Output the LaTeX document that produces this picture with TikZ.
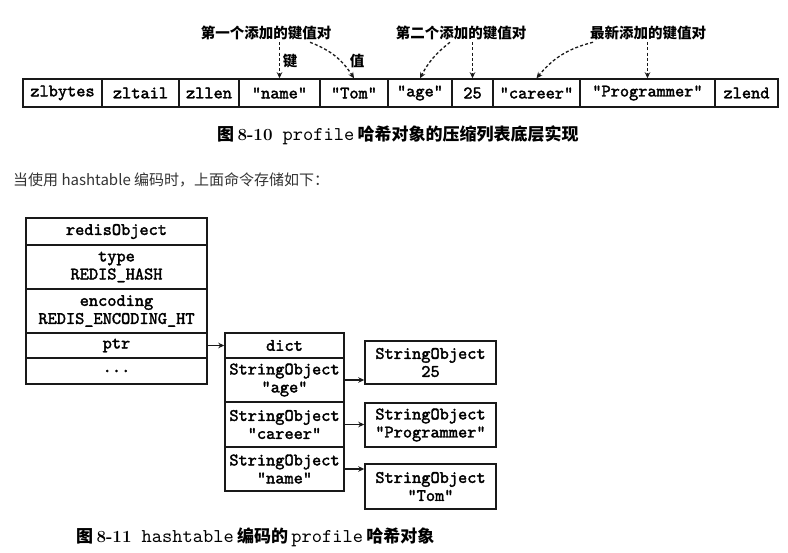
\documentclass[tikz,border=0pt]{standalone}
\usepackage{fontspec}
\setmonofont{lmmono10-regular.otf}[BoldFont=lmmono10-regular.otf, BoldFeatures={FakeBold=2}]
\newfontfamily\cjk{Noto Sans CJK SC}
\usetikzlibrary{arrows.meta,calc}
\begin{document}
\begin{tikzpicture}[x=1pt,y=-1pt,
  cell/.style={draw=black!90, line width=1.5pt, inner sep=0pt, align=center,
    font=\ttfamily\bfseries\fontsize{17.5}{18}\selectfont},
  toprow/.style={cell, minimum height=28},
  lab/.style={inner sep=2pt, font=\cjk\bfseries\fontsize{14.5}{16}\selectfont},
  dasharrow/.style={draw=black!90, line width=1.3pt, dash pattern=on 3pt off 2.2pt,
    -{Stealth[length=6pt,width=5.5pt]}},
  solidarrow/.style={draw=black!90, line width=1.3pt, -{Stealth[length=6pt,width=5.5pt]}},
  caption/.style={anchor=west, inner sep=0pt}
]
\useasboundingbox (0,0) rectangle (788,553);

% ---- ziplist row ----
\node[toprow, minimum width=79] (zlbytes) at (62.5,93) {zlbytes};
\node[toprow, minimum width=77] (zltail) at (140.5,93) {zltail};
\node[toprow, minimum width=60] (zllen) at (209,93) {zllen};
\node[toprow, minimum width=81] (name) at (279.5,93) {"name"};
\node[toprow, minimum width=68] (tom) at (354,93) {"Tom"};
\node[toprow, minimum width=64] (age) at (420,93) {"age"};
\node[toprow, minimum width=41] (v25) at (472.5,93) {25};
\node[toprow, minimum width=87] (career) at (536.5,93) {"career"};
\node[toprow, minimum width=135] (prog) at (647.5,93) {"Programmer"};
\node[toprow, minimum width=63] (zlend) at (746.5,93) {zlend};

% ---- labels ----
\node[lab] (l1) at (266,33) {第一个添加的键值对};
\node[lab] (l2) at (461,33) {第二个添加的键值对};
\node[lab] (l3) at (648,33) {最新添加的键值对};
\node[lab] (kk) at (290,61) {键};
\node[lab] (vv) at (357,61) {值};

\draw[dasharrow] (name.north |- l1.south) -- (name.north);
\draw[dasharrow] ([xshift=44pt]l1.south) to[bend left=18] (tom.north);
\draw[dasharrow] ([xshift=-11pt]l2.south) to[bend right=12] (age.north);
\draw[dasharrow] (v25.north |- l2.south) -- (v25.north);
\draw[dasharrow] ([xshift=-55pt]l3.south) to[bend right=18] (career.north);
\draw[dasharrow] (prog.north |- l3.south) -- (prog.north);

% ---- caption 8-10 ----
\node[caption] (cap1) at (217,135) {{\cjk\bfseries\fontsize{17}{18}\selectfont 图} {\bfseries\fontsize{17}{18}\selectfont 8-10}\quad{\ttfamily\fontsize{19.5}{20}\selectfont profile} {\cjk\bfseries\fontsize{17}{18}\selectfont 哈希对象的压缩列表底层实现}};

% ---- web text ----
\node[caption, text=black!80] (web) at (13,180) {\cjk\fontsize{15}{17}\selectfont 当使用 hashtable 编码时，上面命令存储如下：};

% ---- redisObject ----
\node[cell, minimum width=181, minimum height=27] (ro) at (116.5,231.5) {redisObject};
\node[cell, minimum width=181, minimum height=44] (type) at (116.5,267) {type\\REDIS\_HASH};
\node[cell, minimum width=181, minimum height=44] (enc) at (116.5,311) {encoding\\REDIS\_ENCODING\_HT};
\node[cell, minimum width=181, minimum height=25] (ptr) at (116.5,345.5) {ptr};
\node[cell, minimum width=181, minimum height=26] (dots) at (116.5,371) {...};

% ---- dict ----
\node[cell, minimum width=119, minimum height=25] (dict) at (284.5,345.5) {dict};
\node[cell, minimum width=119, minimum height=44] (sage) at (284.5,380) {StringObject\\"age"};
\node[cell, minimum width=119, minimum height=45] (scar) at (284.5,424.5) {StringObject\\"career"};
\node[cell, minimum width=119, minimum height=44] (sname) at (284.5,469) {StringObject\\"name"};

% ---- values ----
\node[cell, minimum width=131, minimum height=43] (o25) at (430.5,362.5) {StringObject\\25};
\node[cell, minimum width=131, minimum height=44] (oprog) at (430.5,425) {StringObject\\"Programmer"};
\node[cell, minimum width=131, minimum height=45] (otom) at (430.5,486.5) {StringObject\\"Tom"};

\draw[solidarrow] (ptr.east) -- (dict.west);
\draw[solidarrow] (sage.east) -- (sage.east -| o25.west);
\draw[solidarrow] (scar.east) -- (scar.east -| oprog.west);
\draw[solidarrow] (sname.east) -- (sname.east -| otom.west);

% ---- caption 8-11 ----
\node[caption] (cap2) at (76,537) {{\cjk\bfseries\fontsize{17}{18}\selectfont 图} {\bfseries\fontsize{17}{18}\selectfont 8-11}\quad{\ttfamily\fontsize{19.5}{20}\selectfont hashtable} {\cjk\bfseries\fontsize{17}{18}\selectfont 编码的} {\ttfamily\fontsize{19.5}{20}\selectfont profile} {\cjk\bfseries\fontsize{17}{18}\selectfont 哈希对象}};
\end{tikzpicture}
\end{document}
